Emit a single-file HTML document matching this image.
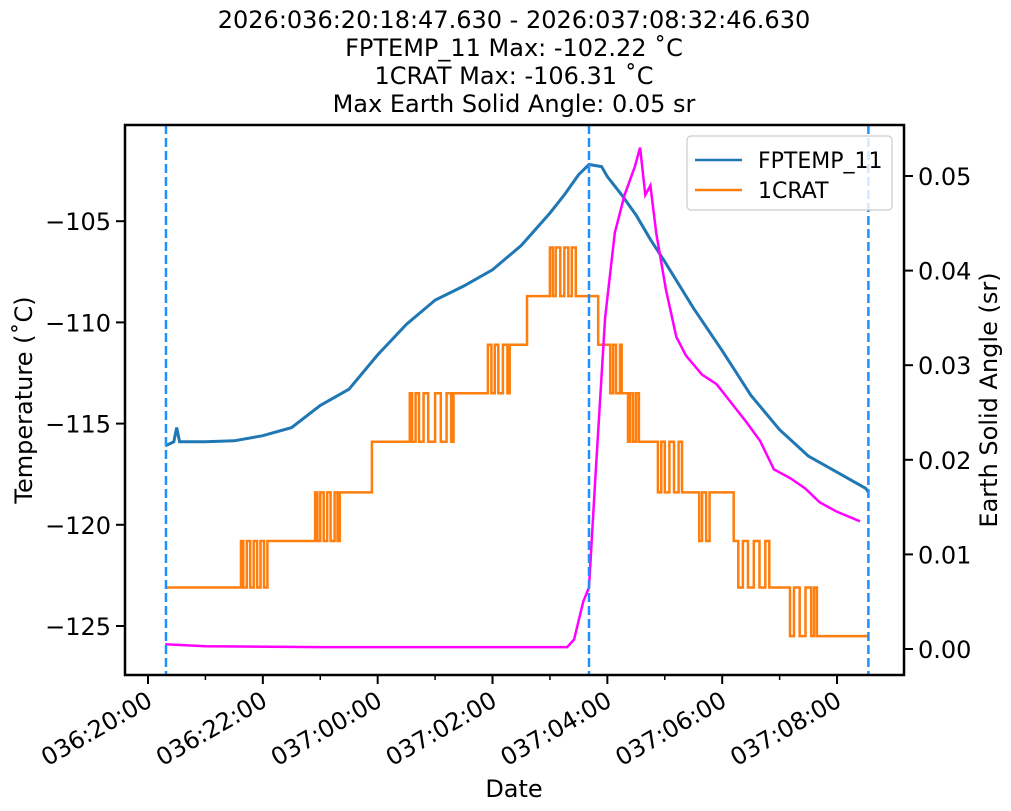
<!DOCTYPE html>
<html><head><meta charset="utf-8"><style>
body{margin:0;background:#fff;}
svg{display:block;font-family:"DejaVu Sans","Liberation Sans",sans-serif;}
</style></head><body>
<svg id="c" width="1011" height="811">
<g font-size="24" text-anchor="middle" fill="#000">
<text x="514" y="28">2026:036:20:18:47.630 - 2026:037:08:32:46.630</text>
<text x="514" y="56">FPTEMP_11 Max: -102.22 ˚C</text>
<text x="514" y="84">1CRAT Max: -106.31 ˚C</text>
<text x="514" y="112">Max Earth Solid Angle: 0.05 sr</text>
</g>
</svg>
<script>
const xTicks=[0,2,4,6,8,10,12];
const xTickLabels=['036:20:00','036:22:00','037:00:00','037:02:00','037:04:00','037:06:00','037:08:00'];
const yTicks=[-105,-110,-115,-120,-125];
const y2Ticks=[0,0.01,0.02,0.03,0.04,0.05];
const vlines=[0.313,7.68,12.546];
const fpT=[0.3,0.45,0.5,0.55,1,1.5,2,2.5,3,3.5,4,4.5,5,5.5,6,6.5,7,7.25,7.5,7.68,7.9,8,8.25,8.5,8.75,9,9.5,10,10.5,11,11.5,12,12.5,12.55];
const fpV=[-116.1,-115.9,-115.2,-115.9,-115.9,-115.85,-115.6,-115.2,-114.1,-113.3,-111.6,-110.1,-108.9,-108.2,-107.4,-106.2,-104.6,-103.7,-102.7,-102.2,-102.3,-102.8,-103.7,-104.7,-105.9,-107.0,-109.3,-111.4,-113.6,-115.3,-116.6,-117.4,-118.2,-118.4];
const crT=[0.31,1.62,1.66,1.72,1.78,1.84,1.9,1.96,2.02,2.08,2.91,2.95,3.0,3.06,3.12,3.18,3.25,3.3,3.34,3.9,4.56,4.6,4.66,4.72,4.8,4.88,5.0,5.1,5.2,5.28,5.32,5.92,5.98,6.04,6.1,6.18,6.26,6.3,6.6,7.0,7.05,7.1,7.18,7.25,7.32,7.38,7.45,7.84,8.05,8.1,8.15,8.22,8.25,8.36,8.4,8.45,8.5,8.55,8.88,8.94,9.0,9.08,9.16,9.24,9.3,9.6,9.65,9.72,9.78,10.2,10.28,10.36,10.45,10.55,10.65,10.75,10.82,11.18,11.25,11.35,11.45,11.55,11.6,11.65,12.55];
const crV=[-123.1,-120.8,-123.1,-120.8,-123.1,-120.8,-123.1,-120.8,-123.1,-120.8,-118.4,-120.8,-118.4,-120.8,-118.4,-120.8,-118.4,-120.8,-118.4,-115.9,-113.5,-115.9,-113.5,-115.9,-113.5,-115.9,-113.5,-115.9,-113.5,-115.9,-113.5,-111.1,-113.5,-111.1,-113.5,-111.1,-113.5,-111.1,-108.7,-106.3,-108.7,-106.3,-108.7,-106.3,-108.7,-106.3,-108.7,-111.1,-113.5,-111.1,-113.5,-111.1,-113.5,-115.9,-113.5,-115.9,-113.5,-115.9,-118.4,-115.9,-118.4,-115.9,-118.4,-115.9,-118.4,-120.8,-118.4,-120.8,-118.4,-120.8,-123.1,-120.8,-123.1,-120.8,-123.1,-120.8,-123.1,-125.5,-123.1,-125.5,-123.1,-125.5,-123.1,-125.5,-125.5];
const esT=[0.3,1,3,5,7,7.3,7.42,7.58,7.68,7.79,7.96,8.13,8.3,8.48,8.57,8.66,8.75,8.85,9.02,9.2,9.37,9.65,9.9,10.16,10.42,10.66,10.9,11.2,11.44,11.7,12,12.4];
const esV=[0.0005,0.0003,0.0002,0.0002,0.0002,0.0002,0.001,0.005,0.0065,0.018,0.035,0.044,0.048,0.051,0.053,0.048,0.049,0.044,0.038,0.033,0.031,0.029,0.028,0.026,0.024,0.022,0.019,0.018,0.017,0.0155,0.0145,0.0135];
const L=125,R=904,Tp=125,B=675;
const X=h=>148+h*57.42;
const Y=v=>626-(v+125)*20.24;
const Y2=v=>649-v*9460;
const svg=document.getElementById('c');const NS='http://www.w3.org/2000/svg';
function mk(t,a,p){const e=document.createElementNS(NS,t);for(const k in a)e.setAttribute(k,a[k]);(p||svg).appendChild(e);return e;}
function path(ts,vs,f){return ts.map((t,i)=>(i?'L':'M')+X(t).toFixed(1)+','+f(vs[i]).toFixed(1)).join('');}
function stepPath(ts,vs,f){let d='M'+X(ts[0]).toFixed(1)+','+f(vs[0]).toFixed(1);for(let i=1;i<ts.length;i++){d+='H'+X(ts[i]).toFixed(1)+'V'+f(vs[i]).toFixed(1);}return d;}
let e;
e=mk('path',{d:path(fpT,fpV,Y),fill:'none',stroke:'#1f77b4','stroke-width':3});


e=mk('path',{d:stepPath(crT,crV,Y),fill:'none',stroke:'#ff7f0e','stroke-width':2.5});


e=mk('path',{d:path(esT,esV,Y2),fill:'none',stroke:'#ff00ff','stroke-width':2.5});


vlines.forEach(h=>{e=mk('line',{x1:X(h),x2:X(h),y1:Tp,y2:B,stroke:'#1e90ff','stroke-width':2.5,'stroke-dasharray':'9,4'});

});
e=mk('rect',{x:L,y:Tp,width:R-L,height:B-Tp,fill:'none',stroke:'#000','stroke-width':2.5});


xTicks.forEach((h,i)=>{mk('line',{x1:X(h),x2:X(h),y1:B,y2:B+9,stroke:'#000','stroke-width':2});
e=mk('text',{x:0,y:0,'font-size':24,'text-anchor':'end',transform:`translate(${X(h)+6},${B+30}) rotate(-30)`});e.textContent=xTickLabels[i];


if(h+1<=12.9)mk('line',{x1:X(h+1),x2:X(h+1),y1:B,y2:B+5,stroke:'#000','stroke-width':1.5});});
yTicks.forEach(v=>{mk('line',{x1:L-9,x2:L,y1:Y(v),y2:Y(v),stroke:'#000','stroke-width':2});
e=mk('text',{x:L-14,y:Y(v)+9,'font-size':24,'text-anchor':'end'});e.textContent='−'+(-v);

});
y2Ticks.forEach(v=>{mk('line',{x1:R,x2:R+9,y1:Y2(v),y2:Y2(v),stroke:'#000','stroke-width':2});
e=mk('text',{x:R+14,y:Y2(v)+9,'font-size':24});e.textContent=v.toFixed(2);

});
e=mk('text',{x:514,y:797,'font-size':24,'text-anchor':'middle'});e.textContent='Date';


e=mk('text',{x:0,y:0,'font-size':24,'text-anchor':'middle',transform:'translate(32,400) rotate(-90)'});e.textContent='Temperature (˚C)';


e=mk('text',{x:0,y:0,'font-size':24,'text-anchor':'middle',transform:'translate(997,400) rotate(-90)'});e.textContent='Earth Solid Angle (sr)';


const g=mk('g',{});


mk('rect',{x:687,y:136,width:205,height:74,rx:4,fill:'#fff','fill-opacity':0.8,stroke:'#ccc','stroke-width':1.2},g);
[['FPTEMP_11','#1f77b4',160],['1CRAT','#ff7f0e',190]].forEach(([n,c,y])=>{mk('line',{x1:695,x2:742,y1:y,y2:y,stroke:c,'stroke-width':2.5},g);
e=mk('text',{x:758,y:y+8,'font-size':22},g);e.textContent=n;

});
</script>
</body></html>
